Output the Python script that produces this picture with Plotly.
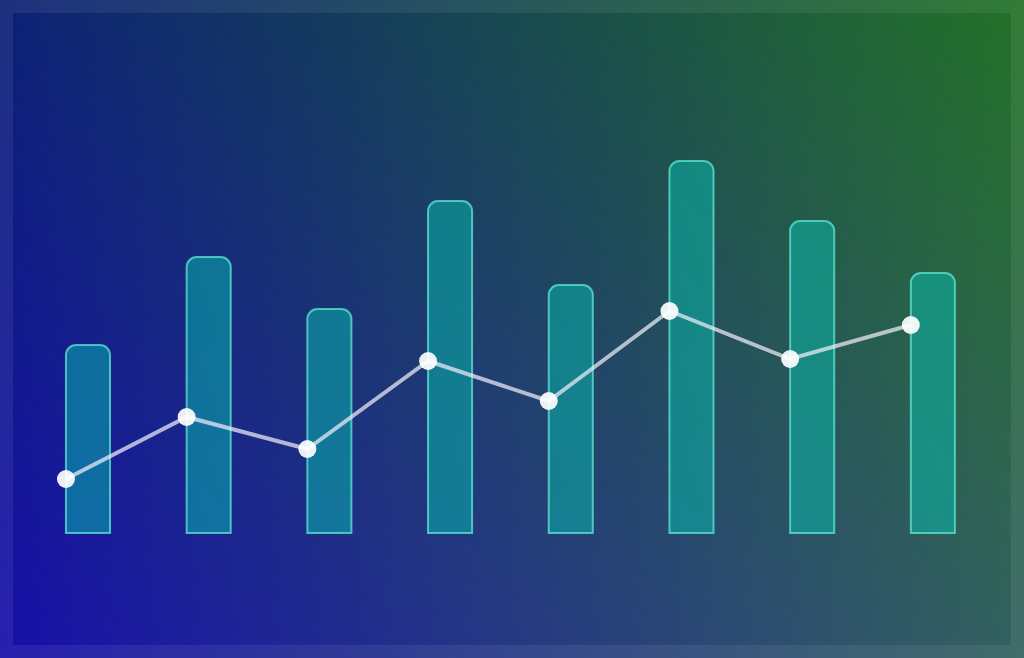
import numpy as np
import plotly.graph_objects as go

# chart values (arbitrary units)
categories = ["1", "2", "3", "4", "5", "6", "7", "8"]
bar_values = [47, 69, 56, 83, 62, 93, 78, 65]
line_values = [13.5, 29, 21, 43, 33, 55.5, 43.5, 52]

# background gradient corner colours (top-left, top-right, bottom-left, bottom-right)
bg_corners = {
    "tl": (13, 34, 118),
    "tr": (36, 114, 40),
    "bl": (24, 16, 170),
    "br": (52, 98, 96),
}

BAR_W = 0.365
W, H = 256, 165


def gradient_image(corners, w, h):
    tl = np.array(corners["tl"], dtype=float)
    tr = np.array(corners["tr"], dtype=float)
    bl = np.array(corners["bl"], dtype=float)
    br = np.array(corners["br"], dtype=float)
    u = np.linspace(0, 1, w)[None, :, None]
    v = np.linspace(0, 1, h)[:, None, None]
    top = tl + (tr - tl) * u
    bottom = bl + (br - bl) * u
    img = top + (bottom - top) * v
    return np.clip(img, 0, 255).astype(np.uint8).tolist()


fig = go.Figure()

# background
fig.add_trace(go.Image(z=gradient_image(bg_corners, W, H), hoverinfo="skip",
                       xaxis="x", yaxis="y"))

idx = list(range(len(categories)))

fig.add_trace(go.Bar(
    x=idx, y=bar_values, width=BAR_W,
    xaxis="x2", yaxis="y2",
    marker=dict(color="rgba(8,190,176,0.5)",
                line=dict(color="rgba(94,234,212,0.75)", width=2),
                cornerradius=10),
    hovertext=categories, name="bars",
))

fig.add_trace(go.Scatter(
    x=idx, y=line_values, mode="lines+markers",
    xaxis="x3", yaxis="y3",
    line=dict(color="rgba(238,238,248,0.72)", width=4),
    marker=dict(color="rgba(255,255,255,0.92)", size=18),
    hovertext=categories, name="line",
))

hidden = dict(visible=False, showgrid=False, zeroline=False, fixedrange=True)

x_lo, x_hi = -0.729, 7.755
y_lo, y_hi = -31.25, 133.25

fig.update_layout(
    width=1024, height=658,
    margin=dict(l=0, r=0, t=0, b=0),
    paper_bgcolor="#1c2a80",
    plot_bgcolor="rgba(0,0,0,0)",
    showlegend=False,
    xaxis=dict(range=[-0.5, W - 0.5], domain=[0, 1], **hidden),
    yaxis=dict(range=[H - 0.5, -0.5], domain=[0, 1], scaleanchor=False, **hidden),
    xaxis2=dict(range=[x_lo, x_hi], overlaying="x", anchor="y2", **hidden),
    yaxis2=dict(range=[y_lo, y_hi], overlaying="y", anchor="x2", **hidden),
    # line points sit on the left edge of each bar
    xaxis3=dict(range=[x_lo + BAR_W / 2, x_hi + BAR_W / 2], overlaying="x", anchor="y3", **hidden),
    yaxis3=dict(range=[y_lo, y_hi], overlaying="y", anchor="x3", **hidden),
    shapes=[dict(type="rect", xref="paper", yref="paper", x0=0, x1=1, y0=0, y1=1,
                 line=dict(color="rgba(255,255,255,0.07)", width=26),
                 fillcolor="rgba(0,0,0,0)", layer="above")],
)

# page margin off so the figure fills the window
fig.write_html("out.html", config={"displayModeBar": False},
               post_script="document.body.style.margin='0';")
